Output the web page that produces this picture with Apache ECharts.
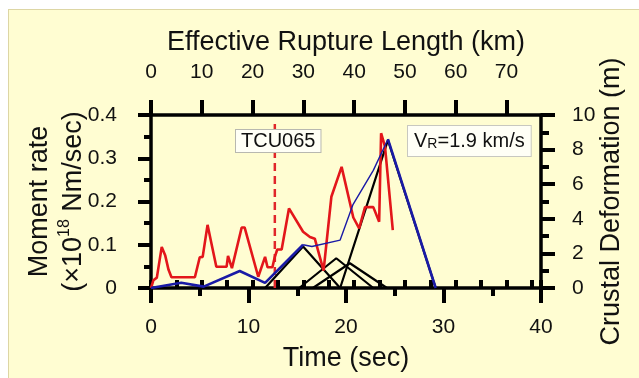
<!DOCTYPE html>
<html>
<head>
<meta charset="utf-8">
<script src="https://cdn.jsdelivr.net/npm/echarts@6/dist/echarts.min.js"></script>
<style>
  html, body { margin: 0; padding: 0; background: #ffffff; }
  #panel { position: absolute; left: 8px; top: 9px; width: 631px; height: 369px; background: #fffdd2; border-left: 1px solid #ddd6a4; border-top: 1px solid #ddd6a4; }
  #chart { position: absolute; left: 0; top: 0; width: 639px; height: 378px; }
</style>
</head>
<body>
<div id="panel"></div>
<div id="chart"></div>
<script>
// moment rate (x10^18 Nm/sec)
const momentTime = [0, 0.25, 0.6, 1.1, 1.45, 1.8, 2.1, 4.5, 5.0, 5.3, 5.8, 6.2, 6.7, 7.75, 7.9, 8.3, 9.3, 9.6,
  11.0, 11.7, 11.95, 12.45, 12.7, 12.95, 13.4, 14.15, 15.6, 16.3, 16.8, 17.7, 18.5, 19.55, 20.75, 21.35,
  21.95, 22.8, 23.4, 23.6, 24.0, 24.8];
const momentRate = [0, 0.018, 0.024, 0.095, 0.076, 0.042, 0.025, 0.025, 0.071, 0.072, 0.146, 0.103, 0.049, 0.049, 0.074, 0.046, 0.14, 0.14,
  0.026, 0.072, 0.048, 0.048, 0.072, 0.089, 0.089, 0.184, 0.13, 0.118, 0.114, 0.04, 0.211, 0.28, 0.163, 0.138,
  0.187, 0.187, 0.153, 0.358, 0.327, 0.134];

// crustal deformation (m), blue curve
const deformTime = [0, 3.1, 5.4, 9.1, 11.7, 15.6, 16.5, 19.4, 20.7, 22.8, 24.3, 29.2];
const deformValue = [0, 0.3, 0.08, 0.98, 0.3, 2.5, 2.4, 2.77, 4.8, 6.8, 8.6, 0];

// sub-event triangles (m), black lines
const subEvents = [
  { start: 11.7, peakTime: 15.6, peak: 2.4, end: 19.4 },
  { start: 15.2, peakTime: 19.0, peak: 1.72, end: 22.8 },
  { start: 16.6, peakTime: 20.4, peak: 1.43, end: 24.2 },
  { start: 19.4, peakTime: 24.3, peak: 8.55, end: 29.2 },
];

const stationTime = 12.7;   // TCU065 arrival
const stationTop = 0.385;
const timeMax = 40;
const ruptureMax = 76.8;    // 40 s at ~1.9 km/s

const pairs = (xs, ys) => xs.map((x, i) => [x, ys[i]]);
const deform = pairs(deformTime, deformValue);

const FONT = 'Liberation Sans, Arial, sans-serif';
const axisLine = () => ({ show: true, onZero: false, lineStyle: { color: '#000', width: 3.5 } });
const tickStyle = () => ({ color: '#000', width: 4 });
const labelStyle = { color: '#111', fontSize: 21, fontFamily: FONT };
const titleStyle = { color: '#111', fontSize: 27, fontFamily: FONT };

const chart = echarts.init(document.getElementById('chart'), null, { renderer: 'canvas' });

const series = [
  {
    type: 'line', xAxisIndex: 0, yAxisIndex: 0, symbol: 'none',
    data: [[stationTime, 0], [stationTime, stationTop]],
    lineStyle: { color: '#e0262a', width: 2.5, type: [8, 5] }, z: 3,
  },
];
subEvents.forEach((e) => {
  series.push({
    type: 'line', xAxisIndex: 0, yAxisIndex: 1, symbol: 'none',
    data: [[e.start, 0], [e.peakTime, e.peak], [e.end, 0]],
    lineStyle: { color: '#000', width: 2.2 }, z: 4,
  });
});
series.push(
  {
    type: 'line', xAxisIndex: 0, yAxisIndex: 0, symbol: 'none',
    data: pairs(momentTime, momentRate),
    lineStyle: { color: '#e3161b', width: 2.6 }, z: 5,
  },
  {
    type: 'line', xAxisIndex: 0, yAxisIndex: 1, symbol: 'none',
    data: deform.slice(0, 6),
    lineStyle: { color: '#1a1aa6', width: 2.6 }, z: 6,
  },
  {
    type: 'line', xAxisIndex: 0, yAxisIndex: 1, symbol: 'none',
    data: deform.slice(5, 11),
    lineStyle: { color: '#1a1aa6', width: 1.4 }, z: 6,
  },
  {
    type: 'line', xAxisIndex: 0, yAxisIndex: 1, symbol: 'none',
    data: deform.slice(10),
    lineStyle: { color: '#1a1aa6', width: 2.6 }, z: 6,
  }
);

chart.setOption({
  animation: false,
  backgroundColor: 'transparent',
  textStyle: { fontFamily: FONT },
  grid: { left: 151, right: 98, top: 115, bottom: 90, containLabel: false },
  xAxis: [
    {
      type: 'value', position: 'bottom', min: 0, max: timeMax, interval: 10,
      axisLine: axisLine(), splitLine: { show: false },
      axisTick: { show: true, inside: false, length: 15, lineStyle: tickStyle() },
      minorTick: { show: true, splitNumber: 2, length: 8, lineStyle: tickStyle() },
      axisLabel: { ...labelStyle, margin: 29 },
      name: 'Time (sec)', nameLocation: 'middle', nameGap: 57, nameMoveOverlap: false,
      nameTextStyle: titleStyle,
    },
    {
      type: 'value', position: 'top', min: 0, max: ruptureMax, interval: 10,
      axisLine: axisLine(), splitLine: { show: false },
      axisTick: { show: true, inside: false, length: 15, lineStyle: tickStyle() },
      axisLabel: { ...labelStyle, margin: 32, showMaxLabel: false },
      name: 'Effective Rupture Length (km)', nameLocation: 'middle', nameGap: 59, nameMoveOverlap: false,
      nameTextStyle: titleStyle,
    },
    {
      type: 'value', position: 'top', min: 0, max: ruptureMax, interval: 5,
      axisLine: { show: false }, splitLine: { show: false },
      axisTick: { show: true, inside: false, length: 8, lineStyle: tickStyle() },
      axisLabel: { show: false },
    },
  ],
  yAxis: [
    {
      type: 'value', position: 'left', min: 0, max: 0.4, interval: 0.1,
      axisLine: axisLine(), splitLine: { show: false },
      axisTick: { show: true, inside: false, length: 13, lineStyle: tickStyle() },
      minorTick: { show: true, splitNumber: 2, length: 7, lineStyle: tickStyle() },
      axisLabel: { ...labelStyle, margin: 34 },
      name: '{t|Moment rate}\n{t|(×10}{sup|18}{t| Nm/sec)}',
      nameLocation: 'middle', nameRotate: 90, nameGap: 60, nameMoveOverlap: false,
      nameTextStyle: {
        color: '#111', fontFamily: FONT,
        rich: {
          t: { fontSize: 27, lineHeight: 34, fontFamily: FONT, color: '#111' },
          sup: { fontSize: 16, verticalAlign: 'top', lineHeight: 34, fontFamily: FONT, color: '#111' },
        },
      },
    },
    {
      type: 'value', position: 'right', min: 0, max: 10, interval: 2,
      axisLine: axisLine(), splitLine: { show: false },
      axisTick: { show: true, inside: false, length: 14, lineStyle: tickStyle() },
      minorTick: { show: true, splitNumber: 2, length: 8, lineStyle: tickStyle() },
      axisLabel: { ...labelStyle, margin: 31 },
      name: 'Crustal Deformation (m)', nameLocation: 'middle', nameRotate: 90, nameGap: 57, nameMoveOverlap: false,
      nameTextStyle: titleStyle,
    },
  ],
  graphic: [
    {
      type: 'text', left: 235, top: 129, z: 10,
      style: {
        text: 'TCU065', font: '20px ' + FONT, fill: '#111',
        backgroundColor: '#fffff6', borderColor: '#b8b8b0', borderWidth: 1, padding: [1, 5, 1, 5],
      },
    },
    {
      type: 'text', left: 407, top: 125, z: 10,
      style: {
        text: '{t|V}{sub|R}{t|=1.9 km/s}', fill: '#111',
        backgroundColor: '#fffff6', borderColor: '#c8c8c0', borderWidth: 1, padding: [5, 6, 5, 6],
        rich: {
          t: { fontSize: 20, fontFamily: FONT, fill: '#111' },
          sub: { fontSize: 14, fontFamily: FONT, fill: '#111', verticalAlign: 'bottom' },
        },
      },
    },
  ],
  series,
});
</script>
</body>
</html>
